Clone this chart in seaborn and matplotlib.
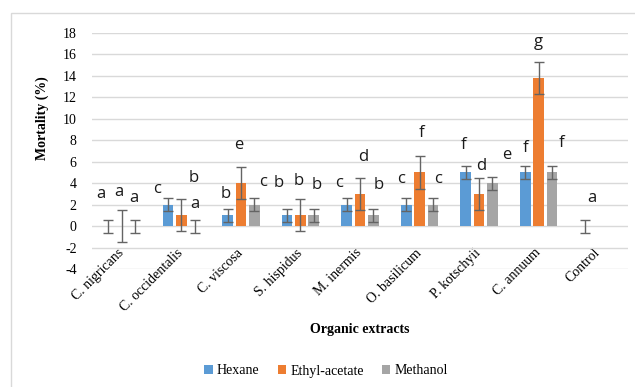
import numpy as np
import pandas as pd
import matplotlib
matplotlib.use("Agg")
import matplotlib.pyplot as plt
from matplotlib.patches import Rectangle
import seaborn as sns

# ---- data -------------------------------------------------------------
extracts = ["C. nigricans", "C. occidentalis", "C. viscosa", "S. hispidus",
            "M. inermis", "O. basilicum", "P. kotschyii", "C. annuum", "Control"]
solvents = ["Hexane", "Ethyl-acetate", "Methanol"]

hexane = [0, 2, 1, 1, 2, 2, 5, 5, 0]
ethyl_acetate = [0, 1, 4, 1, 3, 5, 3, 13.8, np.nan]
methanol = [0, 0, 2, 1, 1, 2, 4, 5, np.nan]

hexane_err = [0.6, 0.6, 0.6, 0.6, 0.6, 0.6, 0.6, 0.6, 0.6]
ethyl_acetate_err = [1.5, 1.5, 1.5, 1.5, 1.5, 1.5, 1.5, 1.5, np.nan]
methanol_err = [0.6, 0.6, 0.6, 0.6, 0.6, 0.6, 0.6, 0.6, np.nan]

# significance letters (per extract: hexane, ethyl-acetate, methanol)
letters = [["a", "a", "a"], ["c", "b", "a"], ["b", "e", "c"], ["b", "b", "b"],
           ["c", "d", "b"], ["c", "f", "c"], ["f", "d", "e"], ["f", "g", "f"],
           ["a"]]
# letter placement: horizontal offset from the extract centre, and height
letter_dx = [[-0.349, -0.047, 0.205], [-0.409, 0.213, 0.229],
             [-0.250, -0.032, 0.371], [-0.360, -0.025, 0.278],
             [-0.353, 0.050, 0.319], [-0.312, 0.041, 0.309],
             [-0.254, 0.031, 0.468], [-0.213, -0.012, 0.391], [-0.105]]
letter_y = [[3.0, 3.2, 2.6], [3.5, 4.5, 2.1], [3.0, 7.6, 4.1], [4.0, 4.2, 3.8],
            [4.0, 6.4, 3.8], [4.4, 8.7, 4.4], [7.6, 5.6, 6.6], [7.3, 17.2, 7.7],
            [2.6]]

yticks = list(range(-4, 19, 2))

colors = ["#5B9BD5", "#ED7D31", "#A5A5A5"]

# ---- long table for seaborn ------------------------------------------
series = {"Hexane": hexane, "Ethyl-acetate": ethyl_acetate, "Methanol": methanol}
errors = {"Hexane": hexane_err, "Ethyl-acetate": ethyl_acetate_err,
          "Methanol": methanol_err}
rows = []
for s in solvents:
    for e, v in zip(extracts, series[s]):
        rows.append({"Extract": e, "Solvent": s, "Mortality": v})
df = pd.DataFrame(rows)

# ---- figure -----------------------------------------------------------
W, H = 635, 387
fig = plt.figure(figsize=(W / 100, H / 100), dpi=100)
ax = fig.add_axes([92 / W, 1 - 269 / H, 536 / W, 236 / H])

sns.barplot(data=df, x="Extract", y="Mortality", hue="Solvent",
            order=extracts, hue_order=solvents, palette=colors,
            saturation=1, width=0.67, gap=0.2, errorbar=None, ax=ax,
            legend=True, linewidth=0, zorder=2)

# error bars on top of each bar
for s, cont in zip(solvents, ax.containers):
    for patch in cont:
        xc = patch.get_x() + patch.get_width() / 2
        k = int(round(xc))
        v = series[s][k]
        if np.isnan(v):
            continue
        ax.errorbar(xc, v, yerr=errors[s][k], fmt="none", ecolor="#646464",
                    elinewidth=1.0, capsize=3.5, capthick=1.0, zorder=3)

# significance letters
for k, (ls, dxs, ys) in enumerate(zip(letters, letter_dx, letter_y)):
    for l, dx, y in zip(ls, dxs, ys):
        ax.text(k + dx, y, l, ha="center", va="center", fontsize=12,
                family="Open Sans", color="#1a1a1a", zorder=4)

ax.set_xlim(-0.5, len(extracts) - 0.5)
ax.set_ylim(-4, 18)
ax.set_yticks(yticks)
ax.set_yticklabels([str(t) for t in yticks], family="Liberation Serif",
                   fontsize=10)
ax.yaxis.grid(True, color="#D9D9D9", linewidth=1.0, zorder=0)
ax.set_axisbelow(True)
for sp in ax.spines.values():
    sp.set_visible(False)
ax.tick_params(axis="y", length=0, pad=11)
ax.tick_params(axis="x", length=0, pad=-13)
ax.set_xticks(range(len(extracts)))
ax.set_xticklabels(extracts, rotation=45, ha="right", va="center",
                   rotation_mode="anchor", family="Liberation Serif",
                   fontsize=10)
ax.set_xlabel("")
ax.set_ylabel("")

fig.text(42 / W, 1 - 118 / H, "Mortality (%)", rotation=90, ha="center",
         va="center", family="Liberation Serif", fontweight="bold",
         fontsize=10)
fig.text(360 / W, 1 - 329 / H, "Organic extracts", ha="center", va="center",
         family="Liberation Serif", fontweight="bold", fontsize=10)

handles, labels = ax.get_legend_handles_labels()
ax.get_legend().remove()
fig.legend(handles, labels, loc="center", bbox_to_anchor=(326 / W, 1 - 371 / H),
           ncol=3, frameon=False, handlelength=0.6, handleheight=0.6,
           handletextpad=0.3, columnspacing=1.3,
           prop={"family": "Liberation Serif", "size": 10})

# chart-area border
fig.patches.append(Rectangle((11 / W, -0.1), 1.2, 1 - 13 / H + 0.1,
                             transform=fig.transFigure, fill=False,
                             edgecolor="#D9D9D9", linewidth=1.0))

fig.savefig("out.png", dpi=100)
